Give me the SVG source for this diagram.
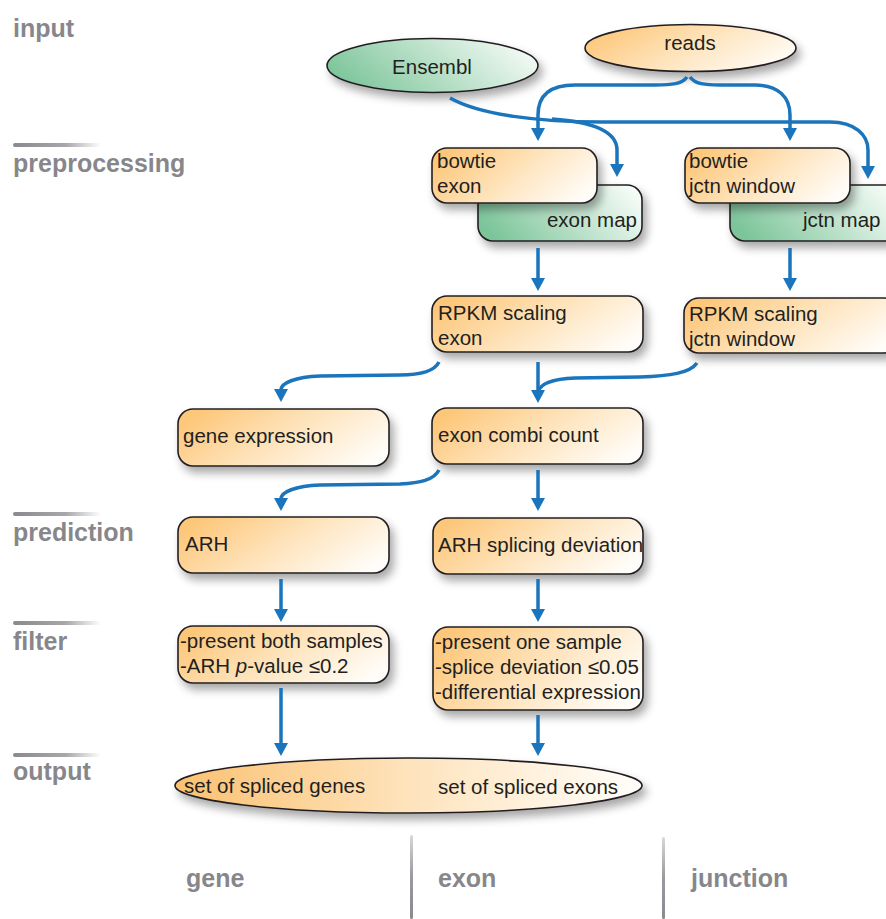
<svg xmlns="http://www.w3.org/2000/svg" width="886" height="919" viewBox="0 0 886 919">
<defs>
<linearGradient id="gO" x1="0" y1="0.3" x2="1" y2="0.7">
<stop offset="0" stop-color="#fdc77a"/>
<stop offset="0.5" stop-color="#fee4bd"/>
<stop offset="1" stop-color="#fffdf9"/>
</linearGradient>
<linearGradient id="gG" x1="0" y1="0.6" x2="1" y2="0.3">
<stop offset="0" stop-color="#7cc59a"/>
<stop offset="0.5" stop-color="#b9e0c8"/>
<stop offset="1" stop-color="#f5fbf7"/>
</linearGradient>
<linearGradient id="gE" x1="0" y1="0" x2="1" y2="0">
<stop offset="0" stop-color="#fbc171"/>
<stop offset="0.5" stop-color="#fee3bc"/>
<stop offset="1" stop-color="#fffefb"/>
</linearGradient>
<linearGradient id="gBar" x1="0" y1="0" x2="1" y2="0">
<stop offset="0" stop-color="#8a8a8e"/>
<stop offset="0.6" stop-color="#a8a8ab"/>
<stop offset="1" stop-color="#a8a8ab" stop-opacity="0"/>
</linearGradient>
<linearGradient id="gV" x1="0" y1="0" x2="0" y2="1">
<stop offset="0" stop-color="#d8d8da"/>
<stop offset="0.5" stop-color="#9a9a9e"/>
<stop offset="1" stop-color="#8a8a8e"/>
</linearGradient>
<filter id="sh" x="-20%" y="-30%" width="150%" height="180%">
<feGaussianBlur in="SourceAlpha" stdDeviation="5"/>
<feOffset dx="4" dy="6" result="b"/>
<feComponentTransfer><feFuncA type="linear" slope="0.35"/></feComponentTransfer>
<feMerge><feMergeNode/><feMergeNode in="SourceGraphic"/></feMerge>
</filter>
<marker id="ah" viewBox="0 0 13 14" refX="1" refY="7" markerWidth="13" markerHeight="14" markerUnits="userSpaceOnUse" orient="auto">
<path d="M0,0 L13,7 L0,14 z" fill="#1b75bc"/>
</marker>
</defs>
<style>
.box{stroke:#231f20;stroke-width:1.6}
.o{fill:url(#gO)}
.g{fill:url(#gG)}
.t{font-family:"Liberation Sans",Arial,sans-serif;font-size:20.5px;fill:#231f20}
.lab{font-family:"Liberation Sans",Arial,sans-serif;font-size:25px;font-weight:bold;fill:#87878b}
.c{fill:none;stroke:#1b75bc;stroke-width:3.5;marker-end:url(#ah)}
.cn{fill:none;stroke:#1b75bc;stroke-width:3.5}
</style>
<rect width="886" height="919" fill="#ffffff"/>

<g id="labels">
<text class="lab" x="13" y="37">input</text>
<rect x="13" y="143" width="88" height="4" rx="2" fill="url(#gBar)"/>
<text class="lab" x="13" y="172">preprocessing</text>
<rect x="13" y="512" width="88" height="4" rx="2" fill="url(#gBar)"/>
<text class="lab" x="13" y="541">prediction</text>
<rect x="13" y="621" width="88" height="4" rx="2" fill="url(#gBar)"/>
<text class="lab" x="13" y="650">filter</text>
<rect x="13" y="753" width="88" height="4" rx="2" fill="url(#gBar)"/>
<text class="lab" x="13" y="780">output</text>
<rect x="410" y="835" width="3" height="84" rx="1.5" fill="url(#gV)"/>
<rect x="662" y="837" width="3" height="82" rx="1.5" fill="url(#gV)"/>
<text class="lab" x="186" y="887">gene</text>
<text class="lab" x="438" y="887">exon</text>
<text class="lab" x="691" y="887">junction</text>
</g>

<g id="ensembl">
<ellipse class="box g" cx="432.5" cy="65.5" rx="105.5" ry="27" filter="url(#sh)"/>
<text class="t" x="432" y="74" text-anchor="middle">Ensembl</text>
</g>
<g id="reads">
<ellipse class="box o" cx="690.5" cy="48" rx="105.5" ry="23.5" filter="url(#sh)"/>
<text class="t" x="690" y="50" text-anchor="middle">reads</text>
</g>

<g id="exon-map">
<rect class="box g" x="478" y="185" width="164" height="56" rx="15" filter="url(#sh)"/>
<text class="t" x="637" y="227" text-anchor="end">exon map</text>
</g>
<g id="bowtie-exon">
<rect class="box o" x="432" y="148" width="165" height="55" rx="15" filter="url(#sh)"/>
<text class="t" x="437" y="168">bowtie</text>
<text class="t" x="437" y="193">exon</text>
</g>
<g id="jctn-map">
<rect class="box g" x="730" y="185" width="170" height="56" rx="15" filter="url(#sh)"/>
<text class="t" x="803" y="227">jctn map</text>
</g>
<g id="bowtie-jctn">
<rect class="box o" x="685" y="148" width="165" height="55" rx="15" filter="url(#sh)"/>
<text class="t" x="689" y="168">bowtie</text>
<text class="t" x="689" y="193">jctn window</text>
</g>

<g id="rpkm-exon">
<rect class="box o" x="432" y="296" width="211" height="56" rx="15" filter="url(#sh)"/>
<text class="t" x="438" y="320">RPKM scaling</text>
<text class="t" x="438" y="345">exon</text>
</g>
<g id="rpkm-jctn">
<rect class="box o" x="684" y="298" width="215" height="55" rx="15" filter="url(#sh)"/>
<text class="t" x="689" y="321">RPKM scaling</text>
<text class="t" x="689" y="346">jctn window</text>
</g>

<g id="gene-expression">
<rect class="box o" x="178" y="409" width="211" height="57" rx="15" filter="url(#sh)"/>
<text class="t" x="183" y="443">gene expression</text>
</g>
<g id="exon-combi">
<rect class="box o" x="432" y="408" width="211" height="56" rx="15" filter="url(#sh)"/>
<text class="t" x="438" y="442">exon combi count</text>
</g>

<g id="arh">
<rect class="box o" x="178" y="517" width="211" height="56" rx="15" filter="url(#sh)"/>
<text class="t" x="185" y="551">ARH</text>
</g>
<g id="arh-splicing">
<rect class="box o" x="433" y="518" width="210" height="56" rx="15" filter="url(#sh)"/>
<text class="t" x="438" y="552">ARH splicing deviation</text>
</g>

<g id="filter-gene">
<rect class="box o" x="178" y="626" width="211" height="57" rx="15" filter="url(#sh)"/>
<text class="t" x="180" y="648">-present both samples</text>
<text class="t" x="180" y="673">-ARH <tspan font-style="italic">p</tspan>-value ≤0.2</text>
</g>
<g id="filter-exon">
<rect class="box o" x="433" y="627" width="210" height="83" rx="15" filter="url(#sh)"/>
<text class="t" x="435" y="649">-present one sample</text>
<text class="t" x="435" y="674">-splice deviation ≤0.05</text>
<text class="t" x="435" y="699">-differential expression</text>
</g>

<g id="output">
<ellipse class="box" fill="url(#gE)" cx="408.5" cy="785.5" rx="233.5" ry="27.5" filter="url(#sh)"/>
<text class="t" x="184" y="793">set of spliced genes</text>
<text class="t" x="438" y="794">set of spliced exons</text>
</g>

<g id="connectors">
<path class="c" d="M 687 77 C 682 84, 672 85, 655 85 L 575 85 C 550 85, 538 95, 538 115 L 538 129"/>
<path class="c" d="M 690 77 C 695 84, 705 85, 720 85 L 755 85 C 778 85, 790 97, 790 115 L 790 129"/>
<path class="c" d="M 450 98 C 480 115, 540 122, 600 122 L 830 122 C 855 122, 868 135, 868 150 L 868 167"/>
<path class="c" d="M 552 119 C 595 122, 617 132, 617 150 L 617 165"/>
<path class="c" d="M 538 248 L 538 279"/>
<path class="c" d="M 790 248 L 790 279"/>
<path class="c" d="M 439 362 C 434 372, 420 375, 400 375 L 320 376 C 295 377, 281 383, 281 390"/>
<path class="c" d="M 538 362 L 538 391"/>
<path class="cn" d="M 697 363 C 690 373, 670 376, 640 377 L 575 378 C 552 379, 540 384, 538 392"/>
<path class="c" d="M 439 470 C 434 480, 420 483, 400 484 L 320 485 C 295 486, 281 492, 281 499"/>
<path class="c" d="M 538 470 L 538 499"/>
<path class="c" d="M 281 579 L 281 610"/>
<path class="c" d="M 538 579 L 538 610"/>
<path class="c" d="M 281 688 L 281 744"/>
<path class="c" d="M 538 715 L 538 744"/>
</g>
</svg>
